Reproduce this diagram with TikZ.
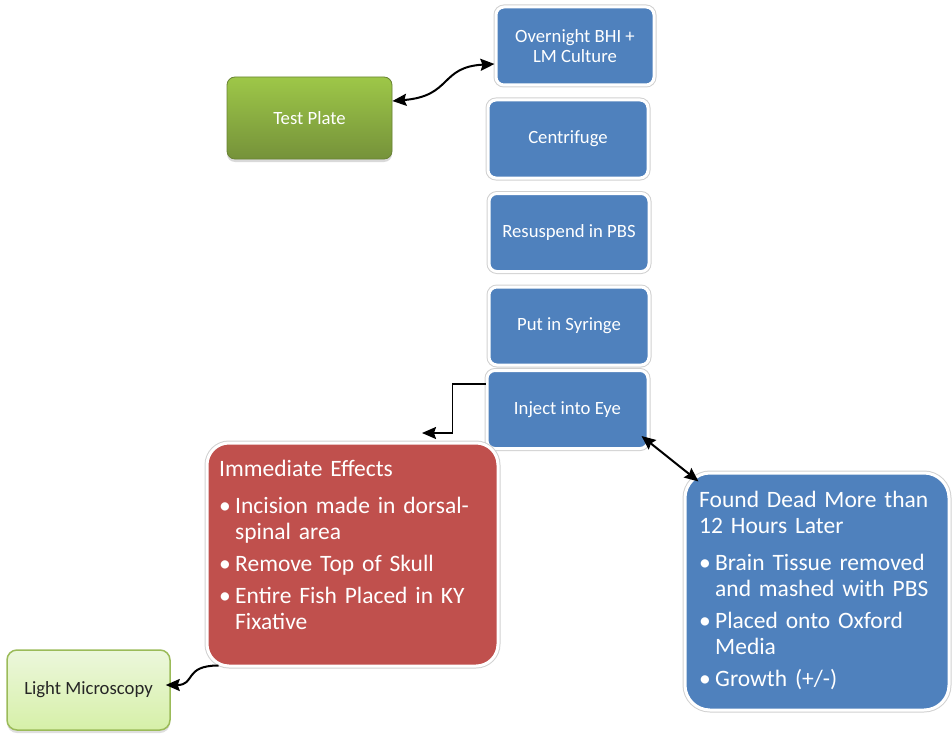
\documentclass[tikz,border=0pt]{standalone}
\usepackage{fontspec}
\setmainfont{Carlito}
\usetikzlibrary{arrows.meta,shadows}
\definecolor{stepblue}{RGB}{79,129,189}
\definecolor{notered}{RGB}{192,80,77}
\definecolor{platetop}{RGB}{158,199,72}
\definecolor{platebot}{RGB}{117,146,58}
\definecolor{microtop}{RGB}{236,247,220}
\definecolor{microbot}{RGB}{214,240,168}
\definecolor{microline}{RGB}{155,187,89}
\newcommand{\bul}[1]{\par\vspace{6pt}\hangindent=16pt\hangafter=1\noindent\makebox[16pt][l]{\textbullet}#1\par}

\begin{document}
\begin{tikzpicture}[x=1pt,y=-1pt,>={Stealth[length=14pt,width=12pt,inset=2pt]},
  ring/.style={preaction={draw=black!18,line width=5pt},draw=white,line width=3pt},
  stepbox/.style={ring,rounded corners=8pt,fill=stepblue,text=white,minimum width=160pt,minimum height=78pt,inner sep=2pt,align=center,font=\fontsize{18.7}{20}\selectfont},
  notebox/.style={ring,rounded corners=22pt,inner sep=0pt},
  notetext/.style={anchor=north west,inner sep=0pt,text width=250pt,align=left,text=white,font=\fontsize{23.5}{26}\selectfont},
  platebox/.style={rounded corners=8pt,top color=platetop,bottom color=platebot,draw=platebot!90!black,line width=.8pt,text=white,minimum width=165pt,minimum height=82pt,font=\fontsize{18.7}{20}\selectfont,drop shadow={opacity=.3,shadow xshift=0pt,shadow yshift=-3pt}},
  microbox/.style={rounded corners=10pt,top color=microtop,bottom color=microbot,draw=microline,line width=1.5pt,text=black!85,minimum width=163pt,minimum height=80pt,font=\fontsize{18.7}{20}\selectfont,drop shadow={opacity=.25,shadow xshift=0pt,shadow yshift=-3pt}},
  link/.style={line width=2pt}]
\useasboundingbox (0,0) rectangle (952,733);

% steps
\node[stepbox,minimum width=158pt] (culture) at (575,46) {Overnight BHI +\\LM Culture};
\node[stepbox] (spin) at (568,139) {Centrifuge};
\node[stepbox] (pbs) at (569,232.5) {Resuspend in PBS};
\node[stepbox] (syringe) at (569,326) {Put in Syringe};
\node[stepbox,minimum width=161pt] (eye) at (567.5,409.5) {Inject into Eye};

\node[platebox] (plate) at (309.5,118) {Test Plate};

% results
\node[notebox,fill=notered,minimum width=291pt,minimum height=223pt] (early) at (352.5,554.5) {};
\node[notetext] (earlytext) at (219,460) {Immediate Effects\par\vspace{5pt}%
  \bul{Incision made in dorsal-\newline spinal area}%
  \bul{Remove Top of Skull}%
  \bul{Entire Fish Placed in KY\newline Fixative}};
\node[notebox,fill=stepblue,rounded corners=25pt,minimum width=264pt,minimum height=237pt] (late) at (817,591.5) {};
\node[notetext] (latetext) at (699,491) {Found Dead More than\newline 12 Hours Later\par\vspace{5pt}%
  \bul{Brain Tissue removed\newline and mashed with PBS}%
  \bul{Placed onto Oxford\newline Media}%
  \bul{Growth (+/-)}};

\node[microbox] (micro) at (88.5,690) {Light Microscopy};

% connectors
\coordinate (earlyin) at (422,433);
\draw[->,line width=1.8pt] ([yshift=25.5pt]eye.west) -- ++(-33,0) |- (earlyin);
\draw[<->,link] ([yshift=17pt]plate.east) .. controls +(60,-5) and +(-55,3) .. ([yshift=-18pt]culture.west);
\draw[<->,link] ([shift={(-8pt,14pt)}]eye.south east) -- ([shift={(15pt,-10pt)}]late.north west);
\draw[->,link] ([shift={(13pt,2pt)}]early.south west) .. controls +(-35,0) and +(30,0) .. ([shift={(-5pt,5pt)}]micro.east);
\end{tikzpicture}
\end{document}
